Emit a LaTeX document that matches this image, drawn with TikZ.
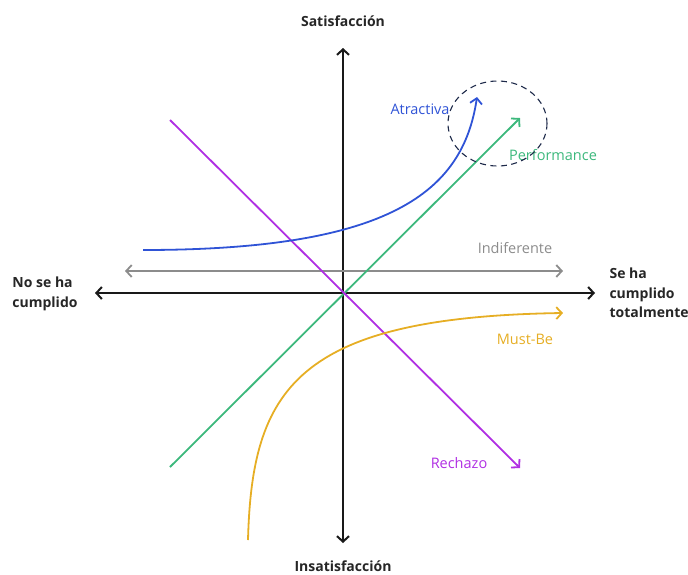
\documentclass[tikz,border=0pt]{standalone}
\usepackage{fontspec}
\setmainfont{Open Sans}
\usetikzlibrary{arrows.meta,positioning}

\definecolor{attrblue}{HTML}{2F53D6}
\definecolor{perfgreen}{HTML}{3CB87C}
\definecolor{rejpurple}{HTML}{B02FE3}
\definecolor{mustorange}{HTML}{E6AE24}
\definecolor{indgray}{HTML}{8C8C8C}
\definecolor{ringnavy}{HTML}{1E2A4A}

\begin{document}
\begin{tikzpicture}
  [x=1pt,y=-1pt,
   >={Straight Barb[length=5.5pt,width=12pt]},
   axis/.style={->,line width=2pt,draw=black!90},
   curve/.style={->,line width=1.8pt},
   axislabel/.style={font=\bfseries\fontsize{14}{19.5}\selectfont,
                     text=black!85,align=left},
   curvelabel/.style={font=\fontsize{14.5}{16}\selectfont}]
  \useasboundingbox (0,0) rectangle (688,574);

  % axes
  \coordinate (origin) at (343,293);
  \coordinate (west)   at (95,293);
  \coordinate (east)   at (595,293);
  \coordinate (north)  at (343,48);
  \coordinate (south)  at (343,543);
  \draw[axis] (origin) -- (west);
  \draw[axis] (origin) -- (east);
  \draw[axis] (origin) -- (north);
  \draw[axis] (origin) -- (south);

  \node[axislabel] (sat)   at (343,21)  {Satisfacción};
  \node[axislabel] (insat) at (343,566) {Insatisfacción};
  \node[axislabel] (no)    at (45,294)  {No se ha\\cumplido};
  \node[axislabel,anchor=west] (si) at (606,293) {Se ha\\cumplido\\totalmente};

  % indifferent
  \coordinate (ind-a) at (125,271);
  \coordinate (ind-b) at (563,271);
  \draw[curve,<->,indgray] (ind-a) -- (ind-b);
  \node[curvelabel,text=indgray] (ind) at (515,248) {Indiferente};

  % performance and reverse
  \coordinate (perf-a) at (170,467);
  \coordinate (perf-b) at (520,118);
  \draw[curve,perfgreen] (perf-a) -- (perf-b);
  \node[curvelabel,text=perfgreen] (perf) at (553,155) {Performance};

  \coordinate (rej-a) at (170,120);
  \coordinate (rej-b) at (520,468);
  \draw[curve,rejpurple] (rej-a) -- (rej-b);
  \node[curvelabel,text=rejpurple] (rej) at (459,463) {Rechazo};

  % attractive
  \coordinate (attr-a) at (143,250);
  \coordinate (attr-b) at (477,97);
  \draw[curve,attrblue] (attr-a) .. controls (390,250) and (463,192) .. (attr-b);
  \node[curvelabel,text=attrblue] (attr) at (420,109) {Atractiva};

  % must-be
  \coordinate (must-a) at (248,540);
  \coordinate (must-b) at (563,313);
  \draw[curve,mustorange] (must-a) .. controls (252,390) and (295,317) .. (must-b);
  \node[curvelabel,text=mustorange] (must) at (525,339) {Must-Be};

  % excitement zone
  \draw[ringnavy,line width=1.1pt,dash pattern=on 6pt off 4.5pt]
    (497.5,123.5) ellipse [x radius=49.5,y radius=42.5];
\end{tikzpicture}
\end{document}
